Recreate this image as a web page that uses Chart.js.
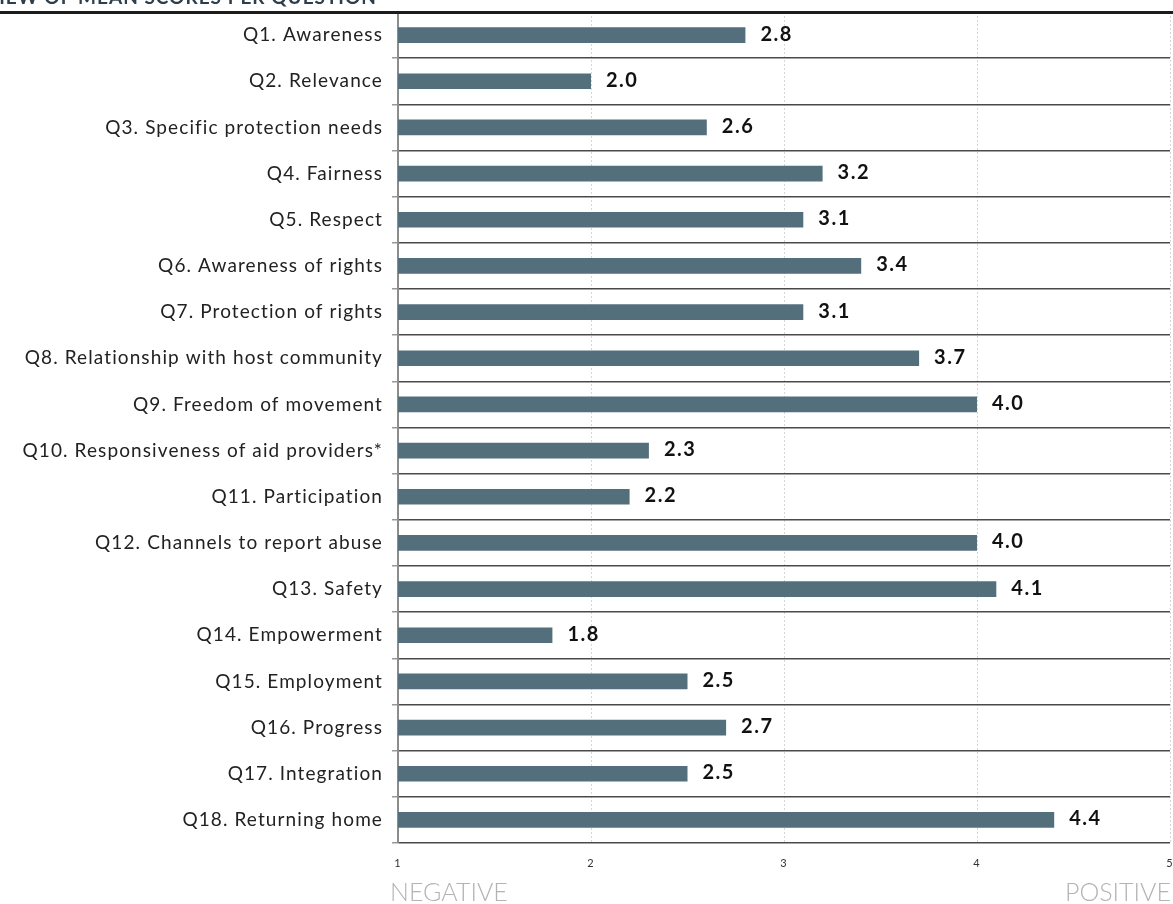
<!DOCTYPE html>
<html>
<head>
<meta charset="utf-8">
<script src="https://cdn.jsdelivr.net/npm/chart.js@4/dist/chart.umd.min.js"></script>
<style>
  html, body { margin: 0; padding: 0; background: #fff; }
  canvas { display: block; }
</style>
</head>
<body>
<canvas id="scores" width="1173" height="904"></canvas>
<script>
const questions = [
  "Q1. Awareness",
  "Q2. Relevance",
  "Q3. Specific protection needs",
  "Q4. Fairness",
  "Q5. Respect",
  "Q6. Awareness of rights",
  "Q7. Protection of rights",
  "Q8. Relationship with host community",
  "Q9. Freedom of movement",
  "Q10. Responsiveness of aid providers*",
  "Q11. Participation",
  "Q12. Channels to report abuse",
  "Q13. Safety",
  "Q14. Empowerment",
  "Q15. Employment",
  "Q16. Progress",
  "Q17. Integration",
  "Q18. Returning home"
];
const meanScores = [2.8, 2.0, 2.6, 3.2, 3.1, 3.4, 3.1, 3.7, 4.0, 2.3, 2.2, 4.0, 4.1, 1.8, 2.5, 2.7, 2.5, 4.4];
const scaleTicks = [1, 2, 3, 4, 5];
const scaleEnds = ["NEGATIVE", "POSITIVE"];
const heading = "OVERVIEW OF MEAN SCORES PER QUESTION";

const FONT = "Lato, 'Open Sans', sans-serif";

// value labels next to each bar, heading strip and the negative/positive captions
const decorations = {
  id: "decorations",
  beforeDraw(chart) {
    // wider tracking for the question labels
    chart.ctx.letterSpacing = "1.1px";
  },
  afterDatasetsDraw(chart) {
    const ctx = chart.ctx;
    const meta = chart.getDatasetMeta(0);
    ctx.save();
    ctx.letterSpacing = "1.5px";
    ctx.fillStyle = "#111";
    ctx.font = "bold 20px " + FONT;
    ctx.textAlign = "left";
    ctx.textBaseline = "middle";
    meta.data.forEach((bar, i) => {
      ctx.fillText(meanScores[i].toFixed(1), bar.x + 15, bar.y - 1);
    });
    ctx.restore();
  },
  afterDraw(chart) {
    const ctx = chart.ctx;
    const area = chart.chartArea;
    ctx.save();
    // cut-off heading above the rule
    ctx.letterSpacing = "1px";
    ctx.fillStyle = "#2d3e4c";
    ctx.font = "bold 19px " + FONT;
    ctx.textAlign = "right";
    ctx.textBaseline = "alphabetic";
    ctx.fillText(heading, 377, 4);
    // heavy rule
    ctx.fillStyle = "#1c1c1c";
    ctx.fillRect(0, 11, chart.width, 3);
    // scale captions
    ctx.letterSpacing = "0px";
    ctx.fillStyle = "#b3b3b3";
    ctx.font = "300 25px " + FONT;
    ctx.textBaseline = "middle";
    ctx.textAlign = "left";
    ctx.fillText(scaleEnds[0], area.left - 8, 893);
    ctx.textAlign = "right";
    ctx.fillText(scaleEnds[1], area.right + 1, 893);
    ctx.restore();
    ctx.letterSpacing = "0px";
  }
};

new Chart(document.getElementById("scores"), {
  type: "bar",
  data: {
    labels: questions,
    datasets: [{
      data: meanScores,
      backgroundColor: "#536f7c",
      borderWidth: 0,
      barPercentage: 0.34,
      categoryPercentage: 1.0
    }]
  },
  options: {
    indexAxis: "y",
    responsive: false,
    animation: false,
    devicePixelRatio: 1,
    layout: { padding: { top: 12, right: 3, left: 0, bottom: 0 } },
    plugins: {
      legend: { display: false },
      tooltip: { enabled: false },
      title: { display: false }
    },
    scales: {
      x: {
        min: 1,
        max: 5,
        afterBuildTicks(scale) {
          scale.ticks = scaleTicks.map(v => ({ value: v }));
        },
        afterFit(scale) {
          scale.height = 61;
          scale.paddingLeft = 0;
          scale.paddingRight = 0;
        },
        grid: {
          color: "#d6d6d6",
          lineWidth: 1,
          drawTicks: false
        },
        border: { display: false, dash: [2, 2] },
        ticks: {
          color: "#333",
          font: { family: FONT, size: 11 },
          padding: 14
        }
      },
      y: {
        afterFit(scale) {
          scale.width = 398;
          scale.paddingTop = 0;
          scale.paddingBottom = 0;
        },
        grid: {
          offset: true,
          color: "#4a4a4a",
          tickColor: "#999",
          tickLength: 6,
          lineWidth: 1.5
        },
        border: { color: "#8c8c8c", width: 2 },
        ticks: {
          color: "#222",
          font: { family: FONT, size: 19 },
          padding: 9,
          autoSkip: false
        }
      }
    }
  },
  plugins: [decorations]
});
</script>
</body>
</html>
